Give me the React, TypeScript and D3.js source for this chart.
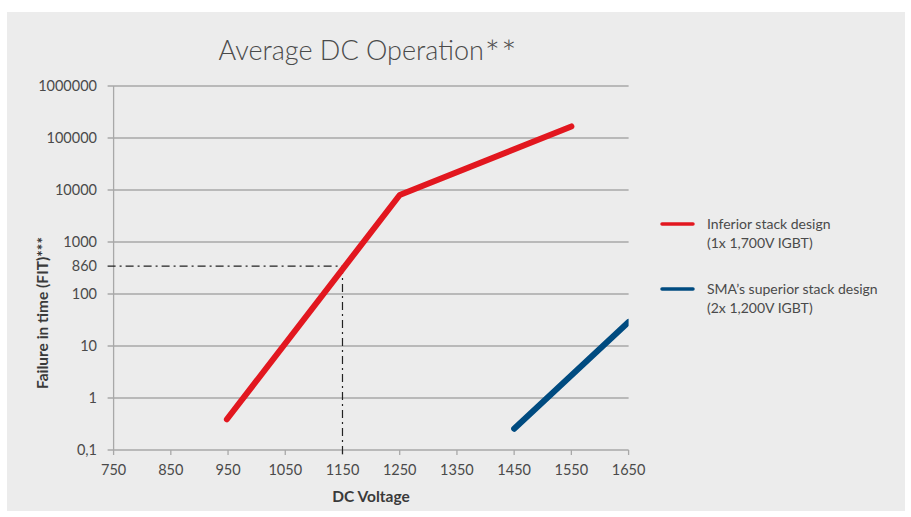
import React from 'react'
import * as d3 from 'd3'

// values
const xTicks = [750, 850, 950, 1050, 1150, 1250, 1350, 1450, 1550, 1650]
const yTicks = [0.1, 1, 10, 100, 1000, 10000, 100000, 1000000]
const inferiorVoltage = [948, 1250, 1550]
const inferiorFit = [0.39, 8000, 167000]
const superiorVoltage = [1450, 1650]
const superiorFit = [0.256, 29]
const markerVoltage = 1150
const markerFit = 345
const markerLabel = '860'
const seriesNames = [
  ['Inferior stack design', '(1x 1,700V IGBT)'],
  ['SMA\u2019s superior stack design', '(2x 1,200V IGBT)'],
]
const seriesColors = ['#e2171f', '#004b80']

const W = 911, H = 517
const left = 113.6, right = 628.6, top = 86, bottom = 450
const font = 'Lato, "Open Sans", sans-serif'
const textColor = '#4a4a4a'

export default function App() {
  const x = d3.scaleLinear().domain([750, 1650]).range([left, right])
  const y = d3.scaleLog().domain([0.1, 1000000]).range([bottom, top])

  const line = d3.line<[number, number]>()
    .x(d => x(d[0]))
    .y(d => y(d[1]))

  const inferior = inferiorVoltage.map((v, i) => [v, inferiorFit[i]] as [number, number])
  const superior = superiorVoltage.map((v, i) => [v, superiorFit[i]] as [number, number])

  const fmtY = (v: number) => v < 1 ? String(v).replace('.', ',') : String(v)

  const my = y(markerFit)
  const mx = x(markerVoltage)

  return (
    <svg width={W} height={H} style={{ position: 'absolute', left: 0, top: 0 }} fontFamily={font}>
      <defs>
        <clipPath id="plot">
          <rect x={left} y={top - 20} width={right - left} height={bottom - top + 20} />
        </clipPath>
      </defs>
      <rect x={7} y={12} width={898} height={499} fill="#ececec" />

      <text x={368} y={60} textAnchor="middle" fontSize={27} fontWeight={300} fill={textColor}>
        Average DC Operation<tspan fontSize={36} dx={1} dy={6} letterSpacing={1}>**</tspan>
      </text>

      {/* grid + y ticks */}
      {yTicks.map(t => (
        <g key={t}>
          <line x1={left - 6} x2={right} y1={y(t)} y2={y(t)} stroke="#a8a8a8" strokeWidth={1.3} />
          <text x={97} y={y(t)} dy="0.35em" textAnchor="end" fontSize={14.5} fill={textColor}>{fmtY(t)}</text>
        </g>
      ))}
      <line x1={left} x2={left} y1={top} y2={bottom} stroke="#a8a8a8" strokeWidth={1.3} />
      {xTicks.map(t => (
        <g key={t}>
          <line x1={x(t)} x2={x(t)} y1={bottom} y2={bottom + 5} stroke="#a8a8a8" strokeWidth={1.3} />
          <text x={x(t)} y={bottom + 25} textAnchor="middle" fontSize={14.5} fill={textColor}>{t}</text>
        </g>
      ))}

      {/* 860 marker */}
      <line x1={left - 6} x2={mx} y1={my} y2={my} stroke="#222" strokeWidth={1.2} strokeDasharray="8 4 2 4" />
      <line x1={mx} x2={mx} y1={my} y2={bottom + 4} stroke="#222" strokeWidth={1.2} strokeDasharray="8 4 2 4" />
      <text x={97} y={my} dy="0.35em" textAnchor="end" fontSize={14.5} fill={textColor}>{markerLabel}</text>

      <g clipPath="url(#plot)">
        <path d={line(inferior) || ''} fill="none" stroke={seriesColors[0]} strokeWidth={6} strokeLinecap="round" strokeLinejoin="round" />
        <path d={line(superior) || ''} fill="none" stroke={seriesColors[1]} strokeWidth={6} strokeLinecap="round" strokeLinejoin="round" />
      </g>

      <text transform={`translate(48,313) rotate(-90)`} textAnchor="middle" fontSize={15.5} fontWeight={700} fill="#3a3a3a">
        Failure in time (FIT)***
      </text>
      <text x={371} y={502} textAnchor="middle" fontSize={15.5} fontWeight={700} fill="#3a3a3a">DC Voltage</text>

      {/* legend */}
      {seriesNames.map((lines, i) => {
        const ly = 224 + i * 65
        return (
          <g key={i}>
            <line x1={662} x2={693} y1={ly} y2={ly} stroke={seriesColors[i]} strokeWidth={3.5} strokeLinecap="round" />
            {lines.map((s, j) => (
              <text key={j} x={707} y={ly + j * 19} dy="0.35em" fontSize={14} fill={textColor}>{s}</text>
            ))}
          </g>
        )
      })}
    </svg>
  )
}
